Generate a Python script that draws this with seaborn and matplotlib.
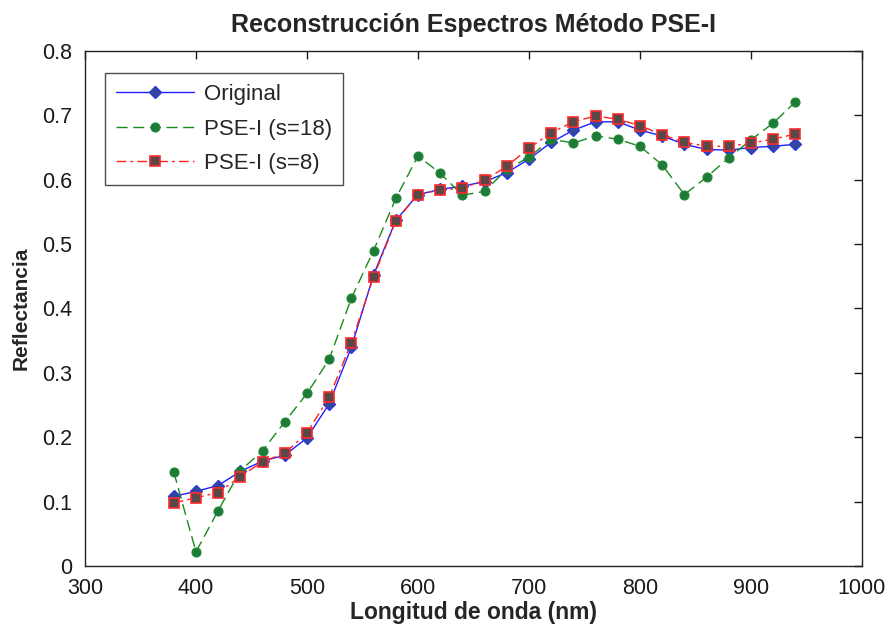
import matplotlib
matplotlib.use("Agg")
import matplotlib.pyplot as plt
import seaborn as sns
import pandas as pd

wavelength = [380, 400, 420, 440, 460, 480, 500, 520, 540, 560, 580, 600, 620, 640, 660,
              680, 700, 720, 740, 760, 780, 800, 820, 840, 860, 880, 900, 920, 940]
original = [0.108, 0.116, 0.125, 0.147, 0.163, 0.172, 0.199, 0.252, 0.340, 0.452, 0.537,
            0.577, 0.585, 0.590, 0.597, 0.611, 0.632, 0.658, 0.677, 0.690, 0.690, 0.677,
            0.668, 0.655, 0.647, 0.646, 0.650, 0.652, 0.655]
pse_s18 = [0.146, 0.022, 0.086, 0.148, 0.179, 0.224, 0.268, 0.321, 0.416, 0.490, 0.571,
           0.637, 0.610, 0.576, 0.582, 0.616, 0.635, 0.663, 0.657, 0.668, 0.663, 0.652,
           0.623, 0.577, 0.604, 0.634, 0.662, 0.688, 0.721]
pse_s8 = [0.098, 0.106, 0.114, 0.139, 0.162, 0.175, 0.207, 0.262, 0.347, 0.449, 0.536,
          0.577, 0.584, 0.587, 0.599, 0.621, 0.649, 0.673, 0.690, 0.699, 0.694, 0.684,
          0.670, 0.658, 0.652, 0.652, 0.657, 0.663, 0.671]
labels = ["Original", "PSE-I (s=18)", "PSE-I (s=8)"]
x_ticks = [300, 400, 500, 600, 700, 800, 900, 1000]
y_ticks = [0, 0.1, 0.2, 0.3, 0.4, 0.5, 0.6, 0.7, 0.8]

sns.set_style("white")
plt.rcParams['font.family'] = ['Liberation Sans', 'DejaVu Sans']

df = pd.DataFrame({"wl": wavelength, "orig": original, "s18": pse_s18, "s8": pse_s8})

fig = plt.figure(figsize=(8.88, 6.27), dpi=100)
ax = fig.add_axes([0.0957, 0.0973, 0.875, 0.8214])

sns.lineplot(data=df, x="wl", y="orig", ax=ax, color="#2020ff", lw=1.0,
             marker="D", markersize=6, markerfacecolor="#34469a", markeredgecolor="#2a3cd8",
             markeredgewidth=1.0, label=labels[0])
sns.lineplot(data=df, x="wl", y="s18", ax=ax, color="#1a8a1a", lw=1.0,
             marker="o", markersize=6.5, markerfacecolor="#1e7a36", markeredgecolor="#1e8a36",
             markeredgewidth=0.8, label=labels[1])
ax.lines[-1].set_dashes([8, 4])
sns.lineplot(data=df, x="wl", y="s8", ax=ax, color="#ff2020", lw=1.0,
             marker="s", markersize=6.5, markerfacecolor="#5a4848", markeredgecolor="#ff2a2a",
             markeredgewidth=1.2, label=labels[2])
ax.lines[-1].set_dashes([7, 3, 2, 3])

ax.set_xlim(300, 1000)
ax.set_ylim(0, 0.8)
ax.set_xticks(x_ticks)
ax.set_yticks(y_ticks)
ax.set_xticklabels([str(t) for t in x_ticks])
ax.set_yticklabels(["0"] + [f"{t:.1f}" for t in y_ticks[1:]])
ax.tick_params(direction="in", length=6, width=1, top=True, right=True,
               labelsize=15.5, colors="#1a1a1a")
ax.tick_params(axis="y", pad=9)
ax.tick_params(axis="x", pad=9)
for sp in ax.spines.values():
    sp.set_color("#222222")
    sp.set_linewidth(1.0)

ax.set_title("Reconstrucción Espectros Método PSE-I", fontsize=18, fontweight="bold", pad=14)
ax.set_xlabel("Longitud de onda (nm)", fontsize=16.5, fontweight="bold")
ax.set_ylabel("Reflectancia", fontsize=15, fontweight="bold")
ax.xaxis.set_label_coords(0.5, -0.068)
ax.yaxis.set_label_coords(-0.07, 0.5)

leg = ax.legend(loc="upper left", bbox_to_anchor=(0.026, 0.957), borderaxespad=0,
                fontsize=16, frameon=True, fancybox=False, edgecolor="#222222",
                handlelength=3.5, borderpad=0.5, labelspacing=0.6, handletextpad=0.45)
leg.get_frame().set_linewidth(1.0)

fig.savefig("out.png", dpi=100)
